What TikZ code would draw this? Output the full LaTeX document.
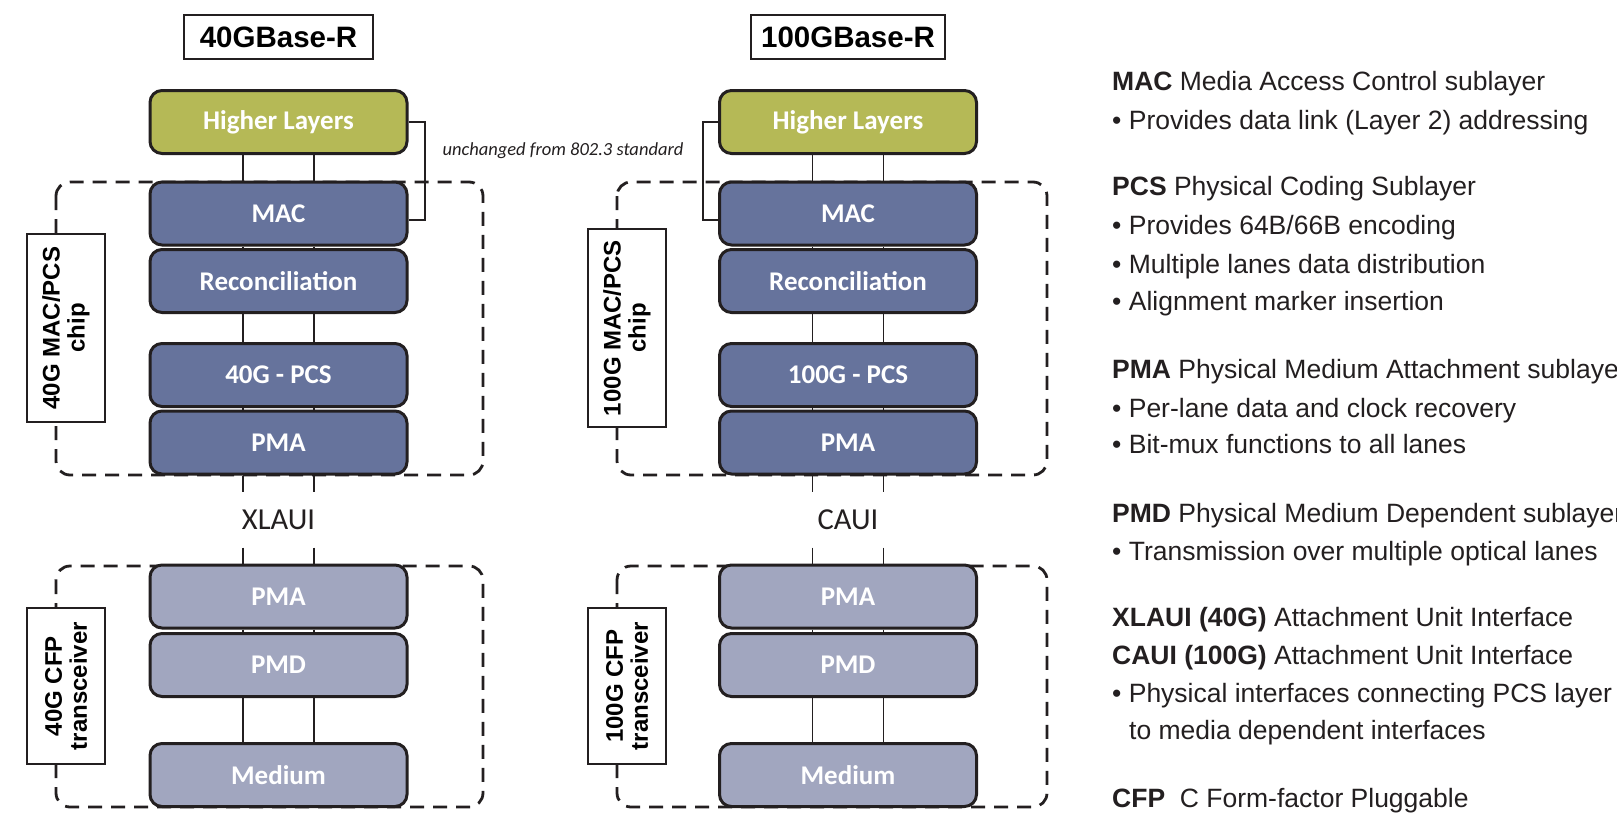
\documentclass[tikz,border=0pt]{standalone}
\usepackage{fontspec}
\newfontfamily\carlito{Carlito}
\newfontfamily\lsans{Liberation Sans}
\definecolor{bord}{HTML}{231F20}
\definecolor{hlgreen}{HTML}{B5B956}
\definecolor{dblue}{HTML}{66739C}
\definecolor{lblue}{HTML}{A1A6BF}
\tikzset{
  layer/.style={rectangle, rounded corners=12pt, minimum width=257pt, minimum height=63pt,
    draw=bord, line width=3pt, text=white, inner sep=0pt,
    font=\carlito\bfseries\fontsize{27}{30}\selectfont},
  hlbox/.style={layer, fill=hlgreen},
  darkbox/.style={layer, fill=dblue},
  lightbox/.style={layer, fill=lblue},
  titlebox/.style={draw=bord, line width=2.5pt, fill=white, minimum height=44pt, inner sep=0pt,
    font=\lsans\bfseries\fontsize{29.5}{32}\selectfont},
  sidelabel/.style={draw=bord, line width=2.5pt, fill=white, rotate=90, minimum height=78pt,
    inner sep=0pt, align=center, font=\lsans\bfseries\fontsize{24}{25}\selectfont},
  groupbox/.style={draw=bord, line width=2.8pt, dash pattern=on 14pt off 9pt, rounded corners=14pt},
  wire/.style={draw=bord, line width=1.5pt},
  bracket/.style={draw=bord, line width=2pt},
  iface/.style={minimum height=55pt, inner sep=0pt, text=bord, font=\carlito\fontsize{30.5}{34}\selectfont},
  desc/.style={anchor=base west, inner sep=0pt, text=bord, font=\lsans\fontsize{26.5}{30}\selectfont},
}
\begin{document}
\begin{tikzpicture}[x=1pt,y=-1pt]
\useasboundingbox[fill=white] (0,0) rectangle (1617,816);

% group boxes
\draw[groupbox] (56,182) rectangle (483,475);
\draw[groupbox] (56,566) rectangle (483,807);
\draw[groupbox] (617,182) rectangle (1047,475);
\draw[groupbox] (617,566) rectangle (1047,807);

% titles
\node[titlebox, minimum width=189pt] (t40) at (278.5,37) {40GBase-R};
\node[titlebox, minimum width=194pt] (t100) at (848,37) {100GBase-R};

% left column
\node[hlbox]    (hlA)  at (278.5,122)   {Higher Layers};
\node[darkbox]  (macA) at (278.5,213.5) {MAC};
\node[darkbox]  (recA) at (278.5,281)   {Reconciliation};
\node[darkbox]  (pcsA) at (278.5,375)   {40G - PCS};
\node[darkbox]  (pmaA) at (278.5,442.5) {PMA};
\node[iface]    (ifA)  at (278.5,520)   {XLAUI};
\node[lightbox] (pmbA) at (278.5,596.5) {PMA};
\node[lightbox] (pmdA) at (278.5,665)   {PMD};
\node[lightbox] (medA) at (278.5,775)   {Medium};

% right column
\node[hlbox]    (hlB)  at (848,122)   {Higher Layers};
\node[darkbox]  (macB) at (848,213.5) {MAC};
\node[darkbox]  (recB) at (848,281)   {Reconciliation};
\node[darkbox]  (pcsB) at (848,375)   {100G - PCS};
\node[darkbox]  (pmaB) at (848,442.5) {PMA};
\node[iface]    (ifB)  at (848,520)   {CAUI};
\node[lightbox] (pmbB) at (848,596.5) {PMA};
\node[lightbox] (pmdB) at (848,665)   {PMD};
\node[lightbox] (medB) at (848,775)   {Medium};

% wires
\foreach \c in {A,B}{
  \foreach \u/\v in {hl/mac, mac/rec, rec/pcs, pcs/pma, pma/if, if/pmb, pmb/pmd, pmd/med}{
    \draw[wire] ([xshift=-35.5pt]\u\c.south) -- ([xshift=-35.5pt]\v\c.north);
    \draw[wire] ([xshift=35.5pt]\u\c.south) -- ([xshift=35.5pt]\v\c.north);
  }
}

% side labels
\node[sidelabel, minimum width=188pt] (chipA) at (66,328) {40G MAC/PCS\\chip};
\node[sidelabel, minimum width=156pt] (cfpA)  at (66,686) {40G CFP\\transceiver};
\node[sidelabel, minimum width=198pt] (chipB) at (627,328) {100G MAC/PCS\\chip};
\node[sidelabel, minimum width=156pt] (cfpB)  at (627,686) {100G CFP\\transceiver};

% brackets
\draw[bracket] (hlA.east) -- ++(16,0) |- ([yshift=-6pt]macA.east);
\draw[bracket] (hlB.west) -- ++(-15,0) |- ([yshift=-6pt]macB.west);
\node[anchor=base, inner sep=0pt, text=bord, font=\carlito\itshape\fontsize{18.5}{20}\selectfont]
  (unch) at (563,155) {unchanged from 802.3 standard};

% description text
\node[desc] (d1)  at (1112,90)  {\textbf{MAC} Media Access Control sublayer};
\node[desc] (d2)  at (1112,129) {• Provides data link (Layer 2) addressing};
\node[desc] (d3)  at (1112,195) {\textbf{PCS} Physical Coding Sublayer};
\node[desc] (d4)  at (1112,234) {• Provides 64B/66B encoding};
\node[desc] (d5)  at (1112,273) {• Multiple lanes data distribution};
\node[desc] (d6)  at (1112,310) {• Alignment marker insertion};
\node[desc] (d7)  at (1112,378) {\textbf{PMA} Physical Medium Attachment sublayer};
\node[desc] (d8)  at (1112,417) {• Per-lane data and clock recovery};
\node[desc] (d9)  at (1112,453) {• Bit-mux functions to all lanes};
\node[desc] (d10) at (1112,522) {\textbf{PMD} Physical Medium Dependent sublayer};
\node[desc] (d11) at (1112,560) {• Transmission over multiple optical lanes};
\node[desc] (d12) at (1112,626) {\textbf{XLAUI (40G)} Attachment Unit Interface};
\node[desc] (d13) at (1112,664) {\textbf{CAUI (100G)} Attachment Unit Interface};
\node[desc] (d14) at (1112,702) {• Physical interfaces connecting PCS layer};
\node[desc] (d15) at (1129,739) {to media dependent interfaces};
\node[desc] (d16) at (1112,807) {\textbf{CFP}\ \ C Form-factor Pluggable};
\end{tikzpicture}
\end{document}
